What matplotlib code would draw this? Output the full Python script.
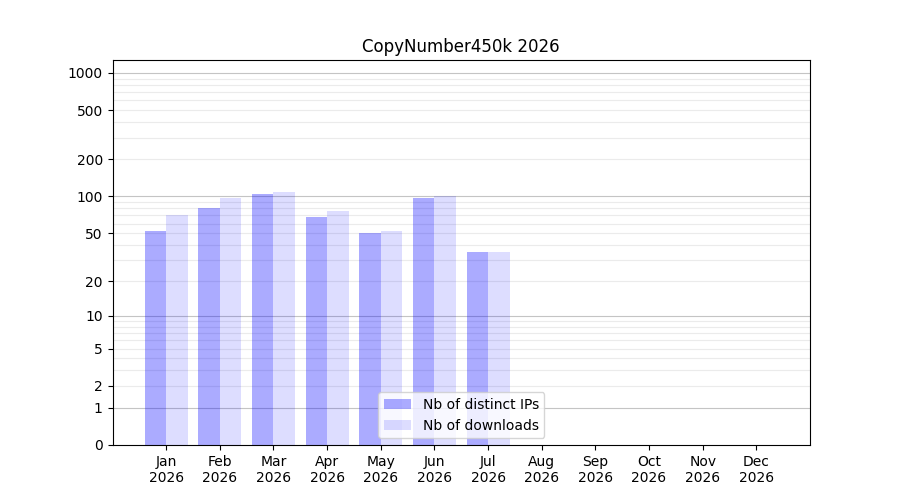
import numpy as np
import matplotlib
matplotlib.use("Agg")
import matplotlib.pyplot as plt
from matplotlib.ticker import NullLocator, FixedLocator

months = ["Jan\n2026", "Feb\n2026", "Mar\n2026", "Apr\n2026", "May\n2026", "Jun\n2026",
          "Jul\n2026", "Aug\n2026", "Sep\n2026", "Oct\n2026", "Nov\n2026", "Dec\n2026"]
ips = [52, 80, 105, 68, 50, 97, 35]
downloads = [70, 97, 109, 76, 52, 100, 35]
ytick_vals = [0, 1, 2, 5, 10, 20, 50, 100, 200, 500, 1000]

fwd = lambda v: np.log10(np.maximum(v, 0) + 1)
inv = lambda t: 10 ** t - 1

fig, ax = plt.subplots(figsize=(9, 5), dpi=100)
ax.set_yscale('function', functions=(fwd, inv))

x_ip = np.arange(len(ips))
ax.bar(x_ip - 0.2, ips, width=0.4, color='blue', alpha=0.33,
       label='Nb of distinct IPs', zorder=2, linewidth=0)
ax.bar(x_ip + 0.2, downloads, width=0.4, color='blue', alpha=0.135,
       label='Nb of downloads', zorder=2, linewidth=0)

# grid lines
for d in [1, 10, 100, 1000]:
    ax.axhline(d, color='#c4c4c4', lw=0.8, zorder=1)
for dec in [1, 10, 100]:
    for m in range(2, 10):
        ax.axhline(dec * m, color='#ebebeb', lw=0.8, zorder=1)

ax.yaxis.set_major_locator(FixedLocator(ytick_vals))
ax.set_yticklabels([str(v) for v in ytick_vals])
ax.yaxis.set_minor_locator(NullLocator())
ax.set_ylim(0, 1273)

ax.set_xticks(np.arange(len(months)))
ax.set_xticklabels(months)
ax.xaxis.set_minor_locator(NullLocator())
ax.set_xlim(-1, 12)

ax.set_title("CopyNumber450k 2026")
ax.legend(loc='lower center')

fig.savefig("out.png", dpi=100)
